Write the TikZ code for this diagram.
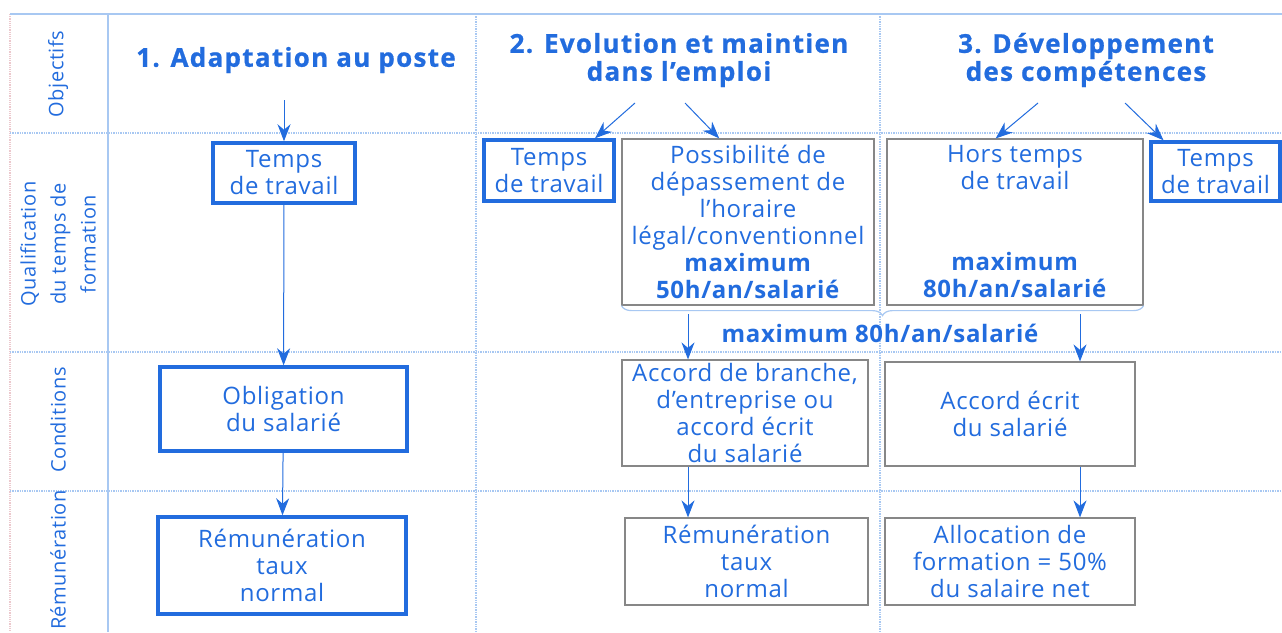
\documentclass[tikz,border=0pt]{standalone}
\usepackage{fontspec}
\setmainfont[LetterSpace=3]{Open Sans}
\newfontfamily\titrefont[LetterSpace=5,FakeBold=0.8]{Open Sans}
\usetikzlibrary{arrows.meta,decorations.pathreplacing}

\definecolor{bleu}{RGB}{34,108,222}
\definecolor{bleuclair}{RGB}{168,200,242}
\definecolor{gris}{RGB}{135,135,135}
\definecolor{rose}{RGB}{236,200,205}

\begin{document}
\begin{tikzpicture}
  [x=1pt,y=-1pt,
   every node/.style={text=bleu,align=center,inner sep=0pt,
                      font=\fontsize{24}{27}\selectfont},
   trait/.style={bleuclair,line width=1.2pt},
   grille/.style={bleuclair,line width=1.4pt,densely dotted},
   boiteB/.style={draw=bleu,line width=3.5pt},
   boiteG/.style={draw=gris,line width=1.2pt},
   titre/.style={font=\fontsize{26}{28}\selectfont\titrefont\bfseries},
   rubrique/.style={rotate=90,font=\fontsize{20}{30}\selectfont},
   fleche/.style={bleu,line width=1pt,-{Stealth[length=17pt,width=13pt]}}
  ]

  \fill[white] (0,0) rectangle (1282,632);
  \useasboundingbox (0,0) rectangle (1282,632);

  % grille
  \draw[rose,densely dotted,line width=1.2pt] (10,14) -- (10,632);
  \draw[trait] (10,14) -- (1282,14);
  \draw[trait] (108,14) -- (108,632);
  \foreach \y in {133,352,491} {
     \draw[grille] (10,\y) -- (1282,\y);
  }
  \foreach \x in {476,880} {
     \draw[grille] (\x,14) -- (\x,632);
  }

  % rubriques
  \foreach \y/\n/\t in {74/obj/Objectifs,
                        244/qual/{Qualification\\du temps de\\formation},
                        420/cond/Conditions,
                        560/rem/Rémunération} {
     \node[rubrique] (\n) at (58,\y) {\t};
  }

  % objectifs
  \node[titre] (titre1) at (296,60) {1. Adaptation au poste};
  \node[titre] (titre2) at (679,60) {2. Evolution et maintien\\dans l’emploi};
  \node[titre] (titre3) at (1086,60) {3. Développement\\des compétences};

  % colonne 1
  \node[boiteB,minimum width=142pt,minimum height=60pt] (tps1) at (284,173) {Temps\\de travail};
  \node[boiteB,minimum width=247pt,minimum height=84pt] (oblig) at (283.5,409) {Obligation\\du salarié};
  \node[boiteB,minimum width=248pt,minimum height=97pt] (remun1) at (282,565.5) {Rémunération\\taux\\normal};

  % colonne 2
  \node[boiteB,minimum width=130pt,minimum height=61pt] (tps2) at (549,170.5) {Temps\\de travail};
  \node[boiteG,minimum width=252pt,minimum height=166pt] (possib) at (748,222)
     {Possibilité de\\dépassement de\\l’horaire\\légal/conventionnel\\\textbf{maximum}\\\textbf{50h/an/salarié}};
  \node[boiteG,minimum width=246pt,minimum height=106pt] (accord2) at (745,413)
     {Accord de branche,\\d’entreprise ou\\accord écrit\\du salarié};
  \node[boiteG,minimum width=243pt,minimum height=87pt] (remun2) at (746.5,561.5) {Rémunération\\taux\\normal};

  % colonne 3
  \node[boiteG,minimum width=256pt,minimum height=166pt] (hors) at (1015,222)
     {Hors temps\\de travail\\[54pt]\textbf{maximum}\\\textbf{80h/an/salarié}};
  \node[boiteB,minimum width=129pt,minimum height=59pt] (tps3) at (1215.5,171.5) {Temps\\de travail};
  \node[boiteG,minimum width=250pt,minimum height=104pt] (accord3) at (1010,414) {Accord écrit\\du salarié};
  \node[boiteG,minimum width=250pt,minimum height=87pt] (alloc) at (1010,561.5)
     {Allocation de\\formation = 50\%\\du salaire net};

  % accolade
  \draw[trait,decorate,decoration={brace,mirror,amplitude=10pt}] (possib.south west) -- (hors.south east);
  \node[font=\fontsize{24}{27}\selectfont\bfseries] (max80) at (880,333) {maximum 80h/an/salarié};

  % fleches
  \coordinate (o1) at (284,100);
  \coordinate (o2g) at (635,103);
  \coordinate (o2d) at (685,103);
  \coordinate (o3g) at (1038,103);
  \coordinate (o3d) at (1125,103);
  \coordinate (b2) at (688,314);
  \coordinate (b3) at (1080,314);

  \draw[fleche] (o1) -- (tps1);
  \draw[fleche] (tps1) -- (oblig);
  \draw[fleche] (oblig) -- (remun1);

  \draw[fleche] (o2g) -- (tps2.35);
  \draw[fleche] (o2d) -- (possib.109);
  \draw[fleche] (o3g) -- (hors.103);
  \draw[fleche] (o3d) -- (tps3.149);

  \draw[fleche] (b2) -- (b2 |- accord2.north);
  \draw[fleche] (b2 |- accord2.south) -- (b2 |- remun2.north);
  \draw[fleche] (b3) -- (b3 |- accord3.north);
  \draw[fleche] (b3 |- accord3.south) -- (b3 |- alloc.north);

\end{tikzpicture}
\end{document}
